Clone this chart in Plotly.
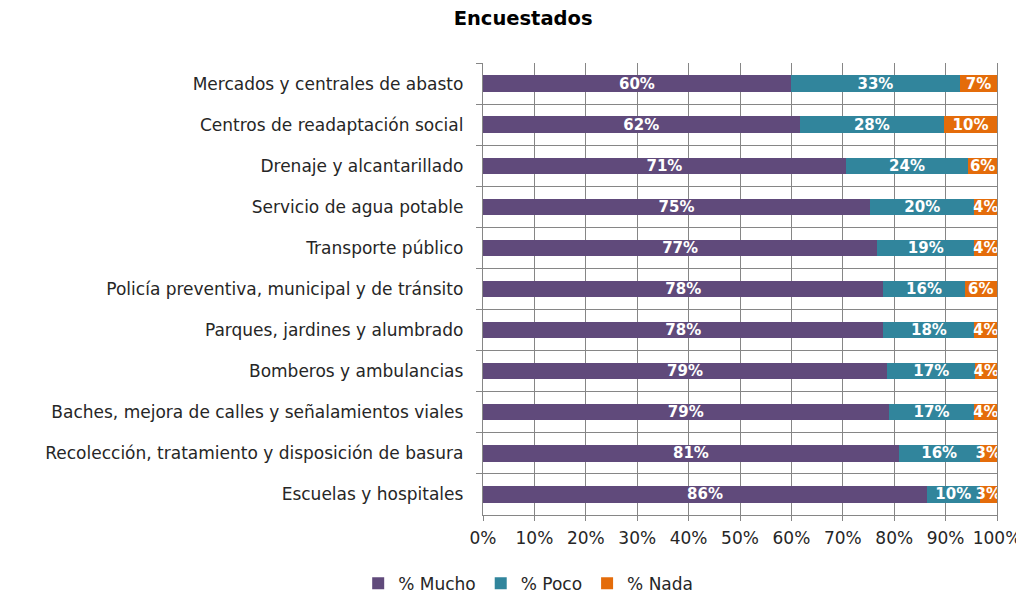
import plotly.graph_objects as go

categories = [
    "Mercados y centrales de abasto",
    "Centros de readaptación social",
    "Drenaje y alcantarillado",
    "Servicio de agua potable",
    "Transporte público",
    "Policía preventiva, municipal y de tránsito",
    "Parques, jardines y alumbrado",
    "Bomberos y ambulancias",
    "Baches, mejora de calles y señalamientos viales",
    "Recolección, tratamiento y disposición de basura",
    "Escuelas y hospitales",
]
mucho = [59.9, 61.6, 70.6, 75.3, 76.7, 77.9, 77.9, 78.6, 78.9, 80.9, 86.4]
poco = [32.9, 28.1, 23.8, 20.3, 18.9, 15.8, 17.7, 17.2, 16.7, 15.7, 10.2]
nada = [7.2, 10.3, 5.6, 4.4, 4.4, 6.3, 4.4, 4.2, 4.4, 3.4, 3.4]

series = [
    ("% Mucho", mucho, "#604A7B"),
    ("% Poco", poco, "#31859C"),
    ("% Nada", nada, "#E46C0A"),
]

FONT = "DejaVu Sans"
TXT = "#262626"
fig = go.Figure()
for name, vals, color in series:
    fig.add_trace(go.Bar(
        name=name, y=categories, x=vals, orientation="h",
        marker=dict(color=color, line=dict(width=0)),
        width=0.4,
        texttemplate="%{x:.0f}%", textposition="inside",
        insidetextanchor="middle", constraintext="none",
        textfont=dict(color="white", size=15, family=FONT, weight="bold"),
    ))

grid = "#868686"
# page body has an 8px margin; figure is sized/placed to compensate
fig.update_layout(
    barmode="stack",
    width=1016, height=588,
    margin=dict(l=475, r=27, t=55, b=81, autoexpand=False),
    paper_bgcolor="white", plot_bgcolor="white",
    font=dict(family=FONT, size=17, color=TXT),
    title=dict(text="<b>Encuestados</b>", x=0.507, xref="container",
               xanchor="center", y=1 - 10 / 588, yref="container",
               yanchor="middle",
               font=dict(size=19.5, color="#000000", family=FONT)),
    legend=dict(orientation="h", x=0.512, xanchor="center", xref="container",
                y=-0.112, yanchor="top", font=dict(size=17, color=TXT),
                traceorder="normal", itemwidth=30),
    showlegend=True,
)
fig.update_xaxes(
    range=[0, 100], dtick=10, ticksuffix="%", showgrid=True,
    gridcolor=grid, gridwidth=1.4, showline=True, linecolor=grid,
    linewidth=1.4, ticks="outside", ticklen=5, tickcolor=grid,
    tickfont=dict(size=17, color=TXT), zeroline=False, automargin=False,
    ticklabelstandoff=2,
)
fig.update_yaxes(
    autorange="reversed", showgrid=True, gridcolor=grid, gridwidth=1.4,
    tickson="boundaries", ticks="outside", ticklen=6, tickcolor=grid,
    showline=True, linecolor=grid, linewidth=1.4, mirror=True,
    ticklabelstandoff=15, tickfont=dict(size=17, color=TXT), automargin=False,
)
fig.write_html("out.html")
